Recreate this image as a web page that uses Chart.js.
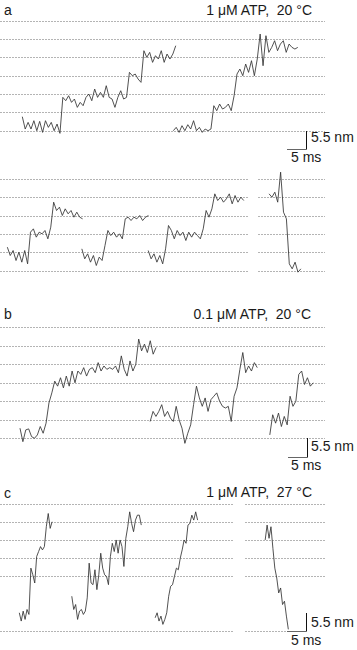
<!DOCTYPE html>
<html><head><meta charset="utf-8">
<script src="https://cdn.jsdelivr.net/npm/chart.js@4.4.1/dist/chart.umd.min.js"></script>
<style>
html,body{margin:0;padding:0;background:#fff;}
body{width:357px;height:650px;position:relative;overflow:hidden;font-family:"Liberation Sans",Arial,Helvetica,sans-serif;color:#1a1a1a;}
canvas{position:absolute;left:0;}
.t{position:absolute;font-size:14px;line-height:14px;white-space:pre;}
.r{text-align:right;}
</style></head><body>
<div class="t" style="left:4px;top:3px;">a</div>
<div class="t r" style="right:45px;top:3px;">1 μM ATP,  20 °C</div>
<div class="t" style="left:311px;top:130px;">5.5 nm</div>
<div class="t" style="left:291px;top:150px;">5 ms</div>
<div class="t" style="left:4px;top:307px;">b</div>
<div class="t r" style="right:46px;top:307px;">0.1 μM ATP,  20 °C</div>
<div class="t" style="left:311px;top:439px;">5.5 nm</div>
<div class="t" style="left:291px;top:458px;">5 ms</div>
<div class="t" style="left:4px;top:486px;">c</div>
<div class="t r" style="right:45px;top:485px;">1 μM ATP,  27 °C</div>
<div class="t" style="left:311px;top:615px;">5.5 nm</div>
<div class="t" style="left:291px;top:633px;">5 ms</div>
<canvas id="cA1"></canvas>
<canvas id="cA2"></canvas>
<canvas id="cB"></canvas>
<canvas id="cC"></canvas>
<script>
// ---------- data (displacement in nm, sampled at fixed intervals) ----------
const GRID_STEP_NM = 5.5;
const SAMPLE_MS_AB = 0.75;   // panels a, b
const SAMPLE_MS_C = 0.5;     // panel c
const X_MAX_MS = 84.2;

// panel a, upper row
const a1Start = 5.78;
const a1 = [4.2,0.5,2.5,0.5,3.0,0.0,2.8,-0.5,3.0,1.0,2.5,0.0,2.0,-0.8,10.0,9.0,10.5,8.5,9.5,7.0,8.5,7.5,10.0,11.0,9.0,12.5,10.0,11.5,10.0,13.5,10.0,9.5,7.0,10.0,12.0,9.5,10.0,17.5,16.5,17.0,15.5,14.5,24.0,22.0,23.5,20.5,22.5,21.5,24.0,20.5,23.0,21.5,23.0,25.5];
const a2Start = 44.9;
const a2 = [0.0,1.0,-0.5,1.5,0.0,1.8,0.5,3.0,0.0,1.0,-0.5,0.5,0.0,0.5,7.5,6.0,8.0,6.5,7.0,8.0,6.0,10.5,17.0,18.5,16.5,20.0,17.5,21.0,16.5,21.5,29.0,19.5,28.5,23.5,25.0,27.0,24.0,26.0,27.0,23.5,26.0,25.0,24.5,25.0];
// panel a, lower row
const a3Start = 1.9;
const a3 = [7.0,4.5,6.0,3.0,5.5,2.5,6.0,2.0,11.5,12.5,10.0,11.5,11.0,12.0,9.5,13.0,20.5,18.0,19.0,16.5,18.5,17.0,18.0,16.0,17.5,16.0,15.5];
const a4Start = 21.2;
const a4 = [6.5,3.5,5.0,2.5,4.5,1.5,4.0,3.0,7.5,12.0,10.5,11.5,10.0,11.0,9.5,15.5,16.0,15.0,16.0,15.5,16.5,15.0,16.0,16.5];
const a5Start = 38.4;
const a5 = [6.0,3.5,5.0,2.5,4.5,2.0,6.5,13.5,12.0,9.5,12.0,10.5,11.5,9.0,11.5,10.0,11.5,10.5,9.5,12.5,18.0,16.0,18.5,23.0,21.0,22.0,20.5,21.5,23.0,20.0,22.5,20.5,22.0,21.0];
const a6Start = 69.7;
const a6 = [23.0,22.0,23.5,20.5,29.5,17.5,15.5,2.0,0.5,2.5,-0.5,0.5];
// panel b
const b1Start = 5.18;
const b1 = [3.0,-1.0,2.5,2.8,0.5,0.0,1.0,3.5,1.5,4.5,10.5,13.5,17.0,15.5,18.0,15.0,18.5,15.5,20.0,16.5,20.0,19.0,21.0,18.5,20.5,21.0,19.5,22.5,20.0,21.5,20.5,21.0,20.5,21.5,19.5,24.5,20.5,18.5,23.0,20.0,22.0,29.5,26.0,28.0,25.5,29.0,25.0,27.0];
const b2Start = 38.9;
const b2 = [5.0,8.0,6.5,8.0,10.0,6.5,8.0,6.0,5.0,9.5,5.5,3.0,-1.5,1.5,4.0,10.0,15.5,12.0,9.5,12.0,8.0,11.5,12.5,13.5,11.0,9.5,9.0,9.5,5.0,12.5,15.0,20.5,25.5,19.5,21.5,20.0,22.5,21.0];
const b3Start = 69.9;
const b3 = [1.0,7.0,4.5,7.5,3.5,6.5,4.0,12.5,9.5,11.0,19.0,20.0,16.0,18.0,15.5,16.5];
// panel c
const c1Start = 5.0;
const c1 = [5.5,3.0,6.0,3.5,6.5,5.0,19.0,17.0,14.5,22.5,24.0,25.5,24.5,25.5,31.5,35.5,31.0,33.0];
const c2Start = 18.6;
const c2 = [10.5,6.5,8.0,3.5,6.0,6.5,5.0,6.0,10.0,20.5,14.5,14.0,18.5,12.5,17.0,23.5,19.0,17.0,16.5,14.0,22.5,26.5,24.0,27.5,23.5,27.5,25.5,19.5,28.0,31.5,36.0,32.5,30.0,33.5,35.0,35.0,32.0];
const c3Start = 40.2;
const c3 = [4.0,5.5,3.0,4.5,2.0,3.5,5.5,10.5,13.5,14.0,16.5,19.0,18.5,22.0,24.5,27.5,26.5,32.0,32.5,35.0,33.5,36.0,33.5];
const c4Start = 68.7;
const c4 = [27.5,32.0,28.0,31.5,25.0,19.0,16.0,11.5,13.0,8.0,9.0,4.5,0.5];

// grid levels (multiples of GRID_STEP_NM) shown in each row
const levelsA1 = [0,1,2,3,4,5,6];
const levelsA2 = [0,1,2,3,4,5];
const levelsB = [0,1,2,3,4,5,6];
const levelsC = [0,3,4,5,6,7];
// scale bars
const BAR_MS = 5;
const BAR_NM = 5.5;

// ---------- layout ----------
const PX_PER_MS = 3.86;
const TRACE_COLOR = '#333333';
const GRID_COLOR = '#b4b4b4';

function series(values, start, dt) {
  return values.map((v, i) => ({x: start + i * dt, y: v}));
}

const rows = [
  {id:'cA1', zeroPx:130.7, pxPerNm:3.333, yMin:-6.5, yMax:35, levels:levelsA1,
   segs:[[0,X_MAX_MS]], bar:{x:79.3, y0:0, y1:-BAR_NM},
   traces:[series(a1,a1Start,SAMPLE_MS_AB), series(a2,a2Start,SAMPLE_MS_AB)]},
  {id:'cA2', zeroPx:270.5, pxPerNm:3.333, yMin:-2.5, yMax:31, levels:levelsA2,
   segs:[[0,64.2],[66.8,X_MAX_MS]], bar:null,
   traces:[series(a3,a3Start,SAMPLE_MS_AB), series(a4,a4Start,SAMPLE_MS_AB), series(a5,a5Start,SAMPLE_MS_AB), series(a6,a6Start,SAMPLE_MS_AB)]},
  {id:'cB', zeroPx:438.3, pxPerNm:3.364, yMin:-6.5, yMax:36, levels:levelsB,
   segs:[[0,X_MAX_MS]], bar:{x:79.5, y0:0, y1:-BAR_NM},
   traces:[series(b1,b1Start,SAMPLE_MS_AB), series(b2,b2Start,SAMPLE_MS_AB), series(b3,b3Start,SAMPLE_MS_AB)]},
  {id:'cC', zeroPx:631, pxPerNm:3.31, yMin:-1.5, yMax:40, levels:levelsC,
   segs:[[0,60.4],[63.5,X_MAX_MS]], bottomSegs:[[0,60.4],[63.5,74.3]], bar:{x:79.3, y0:BAR_NM, y1:0},
   traces:[series(c1,c1Start,SAMPLE_MS_C), series(c2,c2Start,SAMPLE_MS_C), series(c3,c3Start,SAMPLE_MS_C), series(c4,c4Start,SAMPLE_MS_C)]}
];

const gridAndBar = {
  id: 'gridAndBar',
  beforeDatasetsDraw(chart, args, o) {
    const {ctx} = chart; const x = chart.scales.x, y = chart.scales.y;
    ctx.save();
    ctx.strokeStyle = GRID_COLOR; ctx.lineWidth = 1; ctx.setLineDash([2,1]);
    o.levels.forEach(L => {
      const py = Math.round(y.getPixelForValue(L * GRID_STEP_NM)) + 0.5;
      const segs = (L === 0 && o.bottomSegs) ? o.bottomSegs : o.segs;
      segs.forEach(([a, b]) => {
        ctx.beginPath();
        ctx.moveTo(Math.round(x.getPixelForValue(a)), py);
        ctx.lineTo(Math.round(x.getPixelForValue(b)), py);
        ctx.stroke();
      });
    });
    ctx.restore();
  },
  afterDatasetsDraw(chart, args, o) {
    if (!o.bar) return;
    const {ctx} = chart; const x = chart.scales.x, y = chart.scales.y;
    const bx = Math.round(x.getPixelForValue(o.bar.x)) + 0.5;
    const bl = Math.round(x.getPixelForValue(o.bar.x - BAR_MS));
    const yTop = Math.round(y.getPixelForValue(Math.max(o.bar.y0, o.bar.y1)));
    const yBot = Math.round(y.getPixelForValue(Math.min(o.bar.y0, o.bar.y1))) + 0.5;
    ctx.save();
    ctx.strokeStyle = '#111'; ctx.lineWidth = 1; ctx.setLineDash([]);
    ctx.beginPath(); ctx.moveTo(bx, yTop); ctx.lineTo(bx, yBot); ctx.stroke();
    ctx.strokeStyle = '#666';
    ctx.beginPath(); ctx.moveTo(bl, yBot); ctx.lineTo(bx, yBot); ctx.stroke();
    ctx.restore();
  }
};

rows.forEach(r => {
  const cv = document.getElementById(r.id);
  const top = Math.round(r.zeroPx - r.yMax * r.pxPerNm);
  const yMax = (r.zeroPx - top) / r.pxPerNm;
  const h = Math.round((yMax - r.yMin) * r.pxPerNm);
  const yMin = yMax - h / r.pxPerNm;
  const chartW = Math.round(X_MAX_MS * PX_PER_MS);
  cv.width = 357; cv.height = h;
  cv.style.width = '357px'; cv.style.height = h + 'px'; cv.style.top = top + 'px';
  new Chart(cv, {
    type: 'line',
    data: { datasets: r.traces.map(d => ({
      data: d, borderColor: TRACE_COLOR, borderWidth: 0.85, pointRadius: 0,
      tension: 0, fill: false, clip: false
    })) },
    options: {
      responsive: false, animation: false, devicePixelRatio: 1, events: [],
      layout: { padding: { left: 0, top: 0, bottom: 0, right: 357 - chartW } },
      scales: {
        x: { type: 'linear', min: 0, max: X_MAX_MS, display: false },
        y: { type: 'linear', min: yMin, max: yMax, display: false }
      },
      plugins: { legend: {display: false}, tooltip: {enabled: false},
        gridAndBar: { levels: r.levels, segs: r.segs, bottomSegs: r.bottomSegs, bar: r.bar } }
    },
    plugins: [gridAndBar]
  });
});
</script>
</body></html>
